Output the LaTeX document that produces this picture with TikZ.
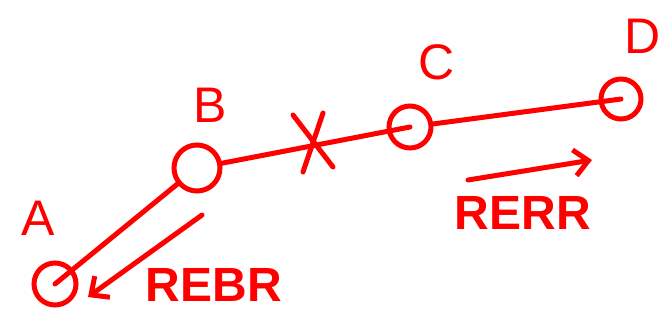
\documentclass[tikz,border=0pt]{standalone}
\usepackage{fontspec}
\setmainfont{Liberation Sans}
\usetikzlibrary{arrows.meta,calc}
\definecolor{ink}{RGB}{255,0,0}
\begin{document}
\begin{tikzpicture}[x=1pt,y=-1pt,
  every node/.style={inner sep=0pt},
  pen/.style={draw=ink,line width=5pt,line cap=round,line join=round},
  vertex/.style={circle,draw=ink,line width=5pt,minimum size=42pt},
  lbl/.style={text=ink,font=\fontsize{50}{50}\selectfont},
  tag/.style={text=ink,font=\bfseries\fontsize{48}{48}\selectfont},
  flow/.style={pen,-{Straight Barb[length=14pt,width=26pt,line width=5pt]}}]
\useasboundingbox (0,0) rectangle (662,325);
% vertices
\node[vertex] (A) at (55,284) {};
\node[vertex,minimum size=46pt] (B) at (197,168) {};
\node[vertex] (C) at (410,127) {};
\node[vertex,minimum size=40pt] (D) at (621,99) {};
% labels
\node[lbl] (la) at (38,218) {A};
\node[lbl] (lb) at (210,105) {B};
\node[lbl] (lc) at (437,62) {C};
\node[lbl] (ld) at (643,36) {D};
% links
\draw[pen] (A.center) -- (B);
\draw[pen] (B) -- (C.center);
\draw[pen] (C) -- (D.center);
% cross on the B-C link
\coordinate (x) at (313,143);
\draw[pen] ($(x)+(-20,-28)$) -- ($(x)+(20,24)$);
\draw[pen] ($(x)+(10,-30)$) -- ($(x)+(-10,29)$);
% messages
\coordinate (r1s) at (202,215);
\coordinate (r1e) at (88,297);
\draw[flow] (r1s) -- (r1e);
\node[tag] (t1) at (214,285) {REBR};
\coordinate (r2s) at (468,180);
\coordinate (r2e) at (592,160);
\draw[flow] (r2s) -- (r2e);
\node[tag] (t2) at (523,213) {RERR};
\end{tikzpicture}
\end{document}
